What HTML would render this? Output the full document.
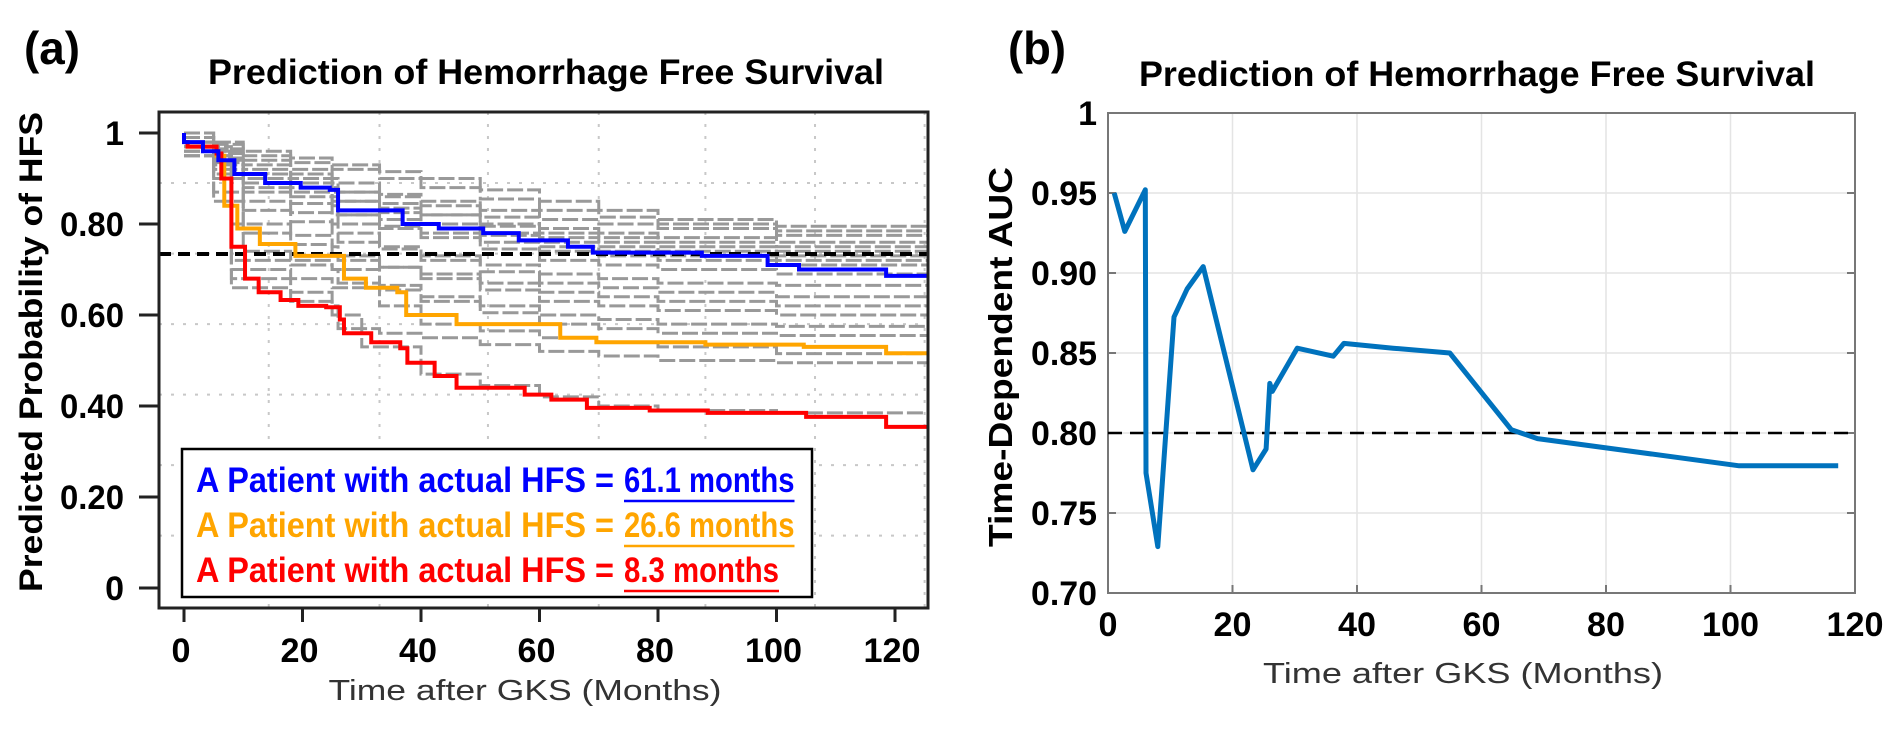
<!DOCTYPE html>
<html><head><meta charset="utf-8"><style>
html,body{margin:0;padding:0;background:#fff;}
svg{display:block;}
text{font-family:"Liberation Sans",sans-serif;}
</style></head><body>
<svg id="fig" width="1885" height="731" viewBox="0 0 1885 731" xmlns="http://www.w3.org/2000/svg">
<text x="24" y="64" font-size="46" font-weight="bold" textLength="56" lengthAdjust="spacingAndGlyphs">(a)</text>
<text x="1008" y="64" font-size="46" font-weight="bold" textLength="58" lengthAdjust="spacingAndGlyphs">(b)</text>
<text x="546" y="84" font-size="35" font-weight="bold" text-anchor="middle" textLength="676" lengthAdjust="spacingAndGlyphs">Prediction of Hemorrhage Free Survival</text>
<text x="1477" y="86" font-size="35" font-weight="bold" text-anchor="middle" textLength="676" lengthAdjust="spacingAndGlyphs">Prediction of Hemorrhage Free Survival</text>
<text x="0" y="0" transform="translate(42,352) rotate(-90)" font-size="32" font-weight="bold" text-anchor="middle" textLength="480" lengthAdjust="spacingAndGlyphs">Predicted Probability of HFS</text>
<text x="0" y="0" transform="translate(1012,357) rotate(-90)" font-size="33" font-weight="bold" text-anchor="middle" textLength="380" lengthAdjust="spacingAndGlyphs">Time-Dependent AUC</text>
<text x="525" y="700" font-size="29" fill="#333" text-anchor="middle" textLength="393" lengthAdjust="spacingAndGlyphs">Time after GKS (Months)</text>
<text x="1463" y="683" font-size="29" fill="#333" text-anchor="middle" textLength="400" lengthAdjust="spacingAndGlyphs">Time after GKS (Months)</text>
<g id="left"></g>
<g id="right"></g>
</svg>
<script>
// ---------- Left chart data ----------
const leftXTicks = [0, 20, 40, 60, 80, 100, 120];
const leftYTicks = [0, 0.2, 0.4, 0.6, 0.8, 1];
const leftYTickLabels = ["0", "0.20", "0.40", "0.60", "0.80", "1"];
const gridX = [14.3, 33, 51.3, 70, 88, 106.5, 125];
const gridY = [0.115, 0.27, 0.425, 0.58, 0.735, 0.89];
const thresholdHFS = 0.734;
const blueCurve = [[0,1],[0,0.98],[3.2,0.96],[5.8,0.94],[8.5,0.91],[13.7,0.89],[19.7,0.88],[24.6,0.875],[26,0.83],[35.4,0.83],[36.9,0.80],[43,0.79],[50.5,0.78],[56.5,0.764],[64.8,0.75],[69,0.737],[87.4,0.73],[98.5,0.71],[103.8,0.70],[118.5,0.686],[128,0.686]];
const orangeCurve = [[0,0.98],[0.6,0.97],[5.5,0.95],[6.8,0.84],[9,0.79],[12.8,0.756],[18.8,0.73],[25.6,0.73],[27,0.68],[30.7,0.66],[36,0.65],[37.5,0.60],[46,0.58],[55,0.58],[63.5,0.55],[69.6,0.54],[88,0.535],[104.6,0.53],[118.5,0.516],[128,0.516]];
const redCurve = [[0,0.98],[0.6,0.97],[5.5,0.955],[6.3,0.90],[8,0.75],[10.3,0.68],[12.6,0.65],[16.3,0.633],[19.3,0.62],[24,0.617],[26.3,0.59],[27,0.56],[31.6,0.54],[36.5,0.527],[37.7,0.495],[42.3,0.466],[46,0.44],[55,0.44],[57.5,0.425],[62,0.414],[68,0.396],[78.6,0.39],[88.4,0.385],[105,0.376],[118.5,0.354],[128,0.354]];
const gray1 = [[0,1],[5,0.98],[10,0.96],[18,0.945],[25,0.93],[33,0.915],[40,0.90],[50,0.875],[60,0.85],[70,0.83],[80,0.81],[100,0.795],[128,0.78]];
const gray2 = [[0,1],[5,0.975],[10,0.95],[18,0.935],[25,0.92],[33,0.9],[40,0.88],[50,0.855],[60,0.83],[70,0.815],[80,0.80],[100,0.785],[128,0.77]];
const gray3 = [[0,0.99],[5,0.965],[10,0.94],[18,0.92],[25,0.90],[26,0.87],[33,0.86],[40,0.85],[50,0.83],[60,0.81],[70,0.80],[80,0.79],[100,0.775],[128,0.76]];
const gray4 = [[0,0.99],[5,0.96],[10,0.93],[18,0.91],[25,0.89],[33,0.865],[40,0.84],[50,0.815],[60,0.79],[70,0.78],[80,0.77],[100,0.76],[128,0.75]];
const gray5 = [[0,0.99],[5,0.955],[10,0.92],[18,0.90],[25,0.88],[26,0.85],[33,0.835],[40,0.82],[50,0.80],[60,0.78],[70,0.77],[80,0.76],[100,0.75],[128,0.74]];
const gray6 = [[0,0.98],[5,0.945],[10,0.91],[18,0.89],[25,0.87],[33,0.845],[40,0.82],[50,0.795],[60,0.77],[70,0.76],[80,0.75],[100,0.74],[128,0.73]];
const gray7 = [[0,0.98],[5,0.94],[10,0.90],[18,0.88],[25,0.86],[26,0.82],[33,0.81],[40,0.80],[50,0.78],[60,0.76],[70,0.75],[80,0.74],[100,0.73],[128,0.72]];
const gray8 = [[0,0.98],[5,0.935],[10,0.89],[18,0.87],[25,0.85],[33,0.825],[40,0.80],[50,0.775],[60,0.75],[70,0.74],[80,0.73],[100,0.72],[128,0.71]];
const gray9 = [[0,0.98],[5,0.93],[10,0.88],[18,0.86],[25,0.84],[26,0.80],[33,0.79],[40,0.78],[50,0.76],[60,0.74],[70,0.73],[80,0.72],[100,0.71],[128,0.70]];
const gray10 = [[0,0.97],[5,0.92],[10,0.87],[18,0.845],[25,0.82],[33,0.795],[40,0.77],[50,0.745],[60,0.72],[70,0.71],[80,0.70],[100,0.69],[128,0.68]];
const gray11 = [[0,0.97],[5,0.91],[10,0.85],[18,0.825],[25,0.80],[26,0.76],[33,0.745],[40,0.73],[50,0.71],[60,0.69],[70,0.68],[80,0.67],[100,0.665],[128,0.66]];
const gray12 = [[0,0.97],[5,0.90],[10,0.83],[18,0.805],[25,0.78],[33,0.75],[40,0.72],[50,0.695],[60,0.67],[70,0.66],[80,0.65],[100,0.64],[128,0.63]];
const gray13 = [[0,0.97],[8,0.80],[18,0.775],[25,0.75],[26,0.72],[33,0.705],[40,0.69],[50,0.67],[60,0.65],[70,0.64],[80,0.63],[100,0.62],[128,0.61]];
const gray14 = [[0,0.96],[5,0.87],[10,0.78],[18,0.755],[25,0.73],[33,0.705],[40,0.68],[50,0.655],[60,0.63],[70,0.62],[80,0.61],[100,0.60],[128,0.59]];
const gray15 = [[0,0.96],[8,0.72],[18,0.71],[25,0.70],[26,0.67],[33,0.655],[40,0.64],[50,0.62],[60,0.60],[70,0.59],[80,0.58],[100,0.575],[128,0.57]];
const gray16 = [[0,0.96],[5,0.85],[10,0.74],[18,0.72],[25,0.70],[33,0.665],[40,0.63],[50,0.605],[60,0.58],[70,0.57],[80,0.56],[100,0.555],[128,0.55]];
const gray17 = [[0,0.95],[8,0.70],[18,0.68],[25,0.66],[33,0.62],[40,0.58],[50,0.565],[60,0.55],[70,0.54],[80,0.53],[100,0.515],[128,0.50]];
const gray18 = [[0,0.95],[8,0.68],[18,0.65],[25,0.62],[26,0.57],[33,0.56],[40,0.55],[50,0.535],[60,0.52],[70,0.51],[80,0.50],[100,0.495],[128,0.49]];
const gray19 = [[0,0.95],[8,0.66],[18,0.63],[25,0.60],[30,0.53],[40,0.47],[50,0.445],[60,0.42],[70,0.40],[80,0.39],[100,0.385],[128,0.38]];
const grayCurves = [gray1,gray2,gray3,gray4,gray5,gray6,gray7,gray8,gray9,gray10,gray11,gray12,gray13,gray14,gray15,gray16,gray17,gray18,gray19];
const legendLabels = ["A Patient with actual HFS = ", "A Patient with actual HFS = ", "A Patient with actual HFS = "];
const legendValues = ["61.1 months", "26.6 months", "8.3 months"];

// ---------- Right chart data ----------
const rightXTicks = [0, 20, 40, 60, 80, 100, 120];
const rightYTicks = [0.70, 0.75, 0.80, 0.85, 0.90, 0.95, 1];
const rightYTickLabels = ["0.70", "0.75", "0.80", "0.85", "0.90", "0.95", "1"];
const aucMonths = [1, 2.7, 6.0, 6.1, 8.0, 10.6, 12.7, 15.3, 23.3, 25.4, 26, 26.4, 30.4, 36.2, 37.9, 45.8, 54.9, 64.8, 69, 101.4, 117.3];
const aucValues = [0.95, 0.926, 0.952, 0.775, 0.729, 0.8725, 0.89, 0.904, 0.777, 0.790, 0.831, 0.826, 0.853, 0.848, 0.856, 0.853, 0.850, 0.802, 0.7965, 0.7795, 0.7795];
const aucThreshold = 0.80;

const NS = "http://www.w3.org/2000/svg";
function mk(tag, attrs, parent) {
  const e = document.createElementNS(NS, tag);
  for (const k in attrs) e.setAttribute(k, attrs[k]);
  parent.appendChild(e);
  return e;
}

// Left axes
const L = {x0:159, x1:928, y0:112, y1:608};
const lx = m => 184 + m * 5.925;
const ly = p => 588 - p * 455;
const left = document.getElementById('left');
const gl = mk('g', {}, left);


gridX.forEach(m => { mk('line', {x1:lx(m), x2:lx(m), y1:L.y0, y2:L.y1, stroke:'#c8c8c8', 'stroke-width':2, 'stroke-dasharray':'3 9'}, gl); });
gridY.forEach(p => { mk('line', {x1:L.x0, x2:L.x1, y1:ly(p), y2:ly(p), stroke:'#c8c8c8', 'stroke-width':2, 'stroke-dasharray':'3 9'}, gl); });

function stepPath(pts, sx, sy) {
  let d = 'M' + sx(pts[0][0]) + ' ' + sy(pts[0][1]);
  for (let i = 1; i < pts.length; i++) {
    d += ' H' + sx(Math.min(pts[i][0], 128)) + ' V' + sy(pts[i][1]);
  }
  return d;
}
const clip = mk('clipPath', {id:'lclip'}, left);
mk('rect', {x:L.x0, y:L.y0, width:L.x1-L.x0, height:L.y1-L.y0}, clip);
const gg = mk('g', {'clip-path':'url(#lclip)'}, left);
grayCurves.forEach((c, i) => {
  const p = mk('path', {d:stepPath(c, lx, ly), fill:'none', stroke:'#999', 'stroke-width':3, 'stroke-dasharray':'16 4'}, gg);
  
  
});
const th = mk('line', {x1:L.x0, x2:L.x1, y1:ly(thresholdHFS), y2:ly(thresholdHFS), stroke:'#000', 'stroke-width':4, 'stroke-dasharray':'12 7'}, gg);


[[orangeCurve,'#FFA500','orange-patient-curve'],[redCurve,'#FF0000','red-patient-curve'],[blueCurve,'#0000FF','blue-patient-curve']].forEach(([c,col,name]) => {
  const p = mk('path', {d:stepPath(c, lx, ly), fill:'none', stroke:col, 'stroke-width':4}, gg);
  
  
});
const lframe = mk('rect', {x:L.x0, y:L.y0, width:L.x1-L.x0, height:L.y1-L.y0, fill:'none', stroke:'#222', 'stroke-width':3}, left);


leftYTicks.forEach((p, i) => {
  mk('line', {x1:L.x0-20, x2:L.x0, y1:ly(p), y2:ly(p), stroke:'#222', 'stroke-width':3}, left);
  const t = mk('text', {x:124, y:ly(p)+12, 'font-size':34, 'font-weight':'bold', 'text-anchor':'end'}, left);
  if (leftYTickLabels[i].length > 2) { t.setAttribute('textLength', 64); t.setAttribute('lengthAdjust', 'spacingAndGlyphs'); }
  t.textContent = leftYTickLabels[i];
  
  
});
leftXTicks.forEach(m => {
  mk('line', {x1:lx(m), x2:lx(m), y1:L.y1, y2:L.y1+14, stroke:'#222', 'stroke-width':3}, left);
  const t = mk('text', {x:lx(m)-3, y:662, 'font-size':34, 'font-weight':'bold', 'text-anchor':'middle'}, left);
  const s = String(m);
  t.setAttribute('textLength', s.length * 19); t.setAttribute('lengthAdjust', 'spacingAndGlyphs');
  t.textContent = s;
  
  
});
// legend
const lg = mk('g', {}, left);


mk('rect', {x:182, y:449, width:630, height:148, fill:'#fff', stroke:'#000', 'stroke-width':2.5}, lg);
const legCols = ['#0000FF', '#FFA500', '#FF0000'];
const legY = [492, 537, 582];
legendLabels.forEach((lab, i) => {
  const t = mk('text', {x:196, y:legY[i], 'font-size':35, 'font-weight':'bold', fill:legCols[i], textLength:418, lengthAdjust:'spacingAndGlyphs'}, lg);
  t.textContent = lab.trim();
  
  
  const w = legendValues[i].length * 15.5;
  const v = mk('text', {x:624, y:legY[i], 'font-size':35, 'font-weight':'bold', fill:legCols[i], textLength:w, lengthAdjust:'spacingAndGlyphs'}, lg);
  v.textContent = legendValues[i];
  
  
  mk('line', {x1:624, x2:624+w, y1:legY[i]+9, y2:legY[i]+9, stroke:legCols[i], 'stroke-width':2.5}, lg);
});

// Right axes
const R = {x0:1108, x1:1855, y0:113, y1:593};
const rx = m => R.x0 + m * (R.x1 - R.x0) / 120;
const ry = v => R.y1 - (v - 0.70) * (R.y1 - R.y0) / 0.30;
const right = document.getElementById('right');
rightXTicks.forEach(m => { mk('line', {x1:rx(m), x2:rx(m), y1:R.y0, y2:R.y1, stroke:'#e4e4e4', 'stroke-width':1.5}, right); });
rightYTicks.forEach(v => { mk('line', {x1:R.x0, x2:R.x1, y1:ry(v), y2:ry(v), stroke:'#e4e4e4', 'stroke-width':1.5}, right); });
const rframe = mk('rect', {x:R.x0, y:R.y0, width:R.x1-R.x0, height:R.y1-R.y0, fill:'none', stroke:'#777', 'stroke-width':2}, right);


rightYTicks.forEach((v, i) => {
  mk('line', {x1:R.x0, x2:R.x0+8, y1:ry(v), y2:ry(v), stroke:'#777', 'stroke-width':2}, right);
  mk('line', {x1:R.x1-8, x2:R.x1, y1:ry(v), y2:ry(v), stroke:'#777', 'stroke-width':2}, right);
  const t = mk('text', {x:1097, y:ry(v)+12, 'font-size':34, 'font-weight':'bold', 'text-anchor':'end'}, right);
  if (rightYTickLabels[i].length > 2) { t.setAttribute('textLength', 66); t.setAttribute('lengthAdjust', 'spacingAndGlyphs'); }
  t.textContent = rightYTickLabels[i];
  
  
});
rightXTicks.forEach(m => {
  mk('line', {x1:rx(m), x2:rx(m), y1:R.y1-8, y2:R.y1, stroke:'#777', 'stroke-width':2}, right);
  const t = mk('text', {x:rx(m), y:636, 'font-size':34, 'font-weight':'bold', 'text-anchor':'middle'}, right);
  const s = String(m);
  t.setAttribute('textLength', s.length * 19); t.setAttribute('lengthAdjust', 'spacingAndGlyphs');
  t.textContent = s;
  
  
});
const dl = mk('line', {x1:R.x0, x2:R.x1, y1:ry(aucThreshold), y2:ry(aucThreshold), stroke:'#000', 'stroke-width':2.5, 'stroke-dasharray':'14 8'}, right);


let d = '';
aucMonths.forEach((m, i) => { d += (i ? ' L' : 'M') + rx(m).toFixed(1) + ' ' + ry(aucValues[i]).toFixed(1); });
const auc = mk('path', {d:d, fill:'none', stroke:'#0072BD', 'stroke-width':5, 'stroke-linejoin':'round'}, right);


</script>
</body></html>
